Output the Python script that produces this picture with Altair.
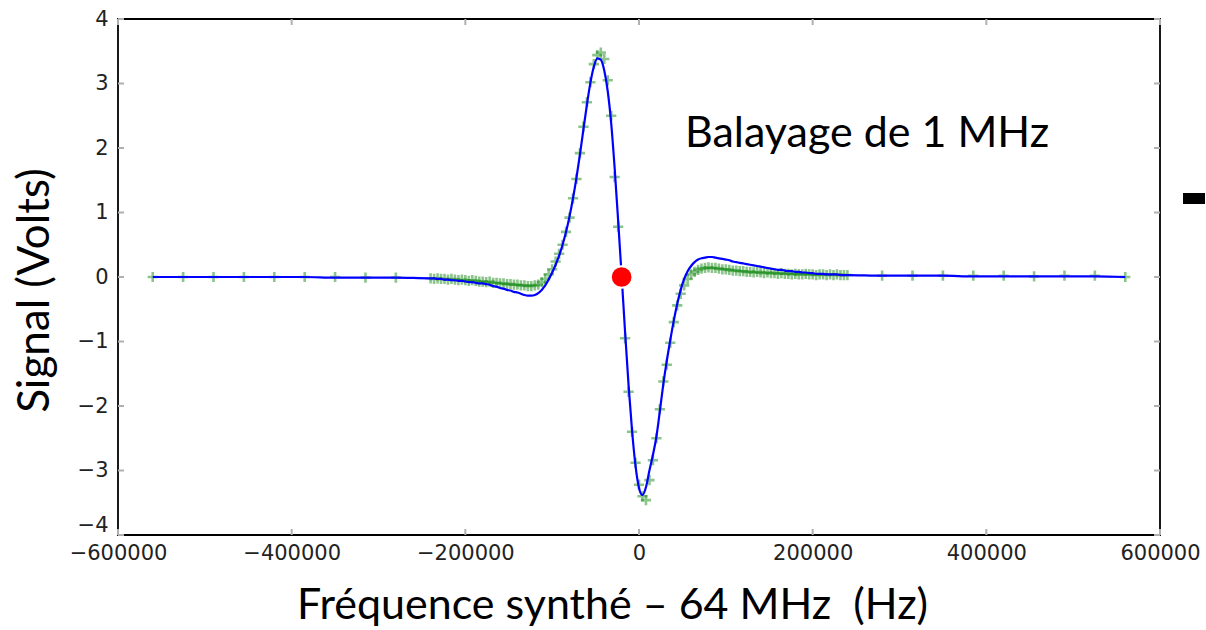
import altair as alt
import pandas as pd

# ---------------- data ----------------
# outer (sparse) sweep points, Hz
outer_left_x = [-560000, -525000, -490000, -455000, -420000, -385000, -350000, -315000, -280000]
outer_right_x = [280000, 315000, 350000, 385000, 420000, 455000, 490000, 525000, 560000]
outer_left_meas = [0.00, 0.00, 0.00, 0.00, 0.00, 0.00, 0.00, -0.01, -0.01]
outer_right_meas = [0.02, 0.02, 0.02, 0.02, 0.02, 0.01, 0.02, 0.02, 0.00]
outer_left_fit = [0.00, 0.00, 0.00, 0.00, 0.00, 0.00, -0.01, -0.01, -0.01]
outer_right_fit = [0.02, 0.02, 0.02, 0.01, 0.01, 0.01, 0.01, 0.01, 0.00]

# dense sweep points, -240 kHz .. +240 kHz every 4 kHz
dense_x = list(range(-240000, 240001, 4000))
dense_meas = [
    -0.02, -0.03, -0.02, -0.03, -0.03, -0.04, -0.03, -0.04, -0.05, -0.04,
    -0.05, -0.06, -0.05, -0.06, -0.07, -0.07, -0.08, -0.07, -0.09, -0.09,
    -0.10, -0.10, -0.11, -0.11, -0.12, -0.12, -0.13, -0.13, -0.14, -0.14,
    -0.13, -0.12, -0.08, -0.03, 0.04, 0.12, 0.24, 0.36, 0.50, 0.70,
    0.92, 1.22, 1.52, 1.92, 2.33, 2.71, 3.02, 3.30, 3.44, 3.48,
    3.38, 3.05, 2.50, 1.55, 0.78, 0.02, -0.95, -1.78, -2.40, -2.88,
    -3.22, -3.40, -3.46, -3.15, -2.84, -2.50, -2.05, -1.62, -1.36, -1.02,
    -0.70, -0.44, -0.26, -0.13, -0.03, 0.04, 0.08, 0.11, 0.13, 0.14,
    0.15, 0.14, 0.14, 0.13, 0.12, 0.12, 0.11, 0.10, 0.10, 0.09,
    0.09, 0.08, 0.08, 0.07, 0.08, 0.07, 0.06, 0.07, 0.06, 0.06,
    0.05, 0.06, 0.05, 0.05, 0.04, 0.05, 0.04, 0.04, 0.05, 0.04,
    0.04, 0.03, 0.04, 0.04, 0.03, 0.04, 0.03, 0.04, 0.03, 0.03,
    0.03,
]
dense_fit = [
    -0.02, -0.02, -0.03, -0.03, -0.04, -0.04, -0.05, -0.05, -0.06, -0.06,
    -0.07, -0.08, -0.08, -0.09, -0.10, -0.10, -0.11, -0.12, -0.14, -0.15,
    -0.17, -0.18, -0.20, -0.21, -0.23, -0.24, -0.26, -0.28, -0.29, -0.29,
    -0.28, -0.25, -0.20, -0.13, -0.04, 0.07, 0.19, 0.33, 0.50, 0.70,
    0.94, 1.22, 1.54, 1.90, 2.29, 2.67, 3.01, 3.26, 3.39, 3.37,
    3.20, 2.88, 2.38, 1.68, 0.87, 0.02, -0.86, -1.68, -2.38, -2.93,
    -3.27, -3.38, -3.26, -3.00, -2.76, -2.48, -2.08, -1.66, -1.30, -0.98,
    -0.68, -0.42, -0.20, -0.03, 0.09, 0.17, 0.23, 0.27, 0.29, 0.30,
    0.31, 0.31, 0.30, 0.29, 0.28, 0.27, 0.26, 0.24, 0.23, 0.22,
    0.21, 0.20, 0.19, 0.18, 0.17, 0.16, 0.15, 0.14, 0.13, 0.12,
    0.11, 0.11, 0.10, 0.09, 0.09, 0.08, 0.08, 0.07, 0.07, 0.06,
    0.06, 0.05, 0.05, 0.05, 0.04, 0.04, 0.04, 0.04, 0.03, 0.03,
    0.03,
]

lock_point_x = [-20000]
lock_point_y = [0.0]

x_ticks = [-600000, -400000, -200000, 0, 200000, 400000, 600000]
y_ticks = [-4, -3, -2, -1, 0, 1, 2, 3, 4]

annotation = ["Balayage de 1 MHz"]
annotation_x = [53000]
annotation_y = [2.22]

x_title = "Fréquence synthé – 64 MHz \u00a0(Hz)"
y_title = "Signal (Volts)"

# ---------------- tables ----------------
freq = outer_left_x + dense_x + outer_right_x
meas = outer_left_meas + dense_meas + outer_right_meas
fit = outer_left_fit + dense_fit + outer_right_fit
df = pd.DataFrame({"f": freq, "meas": meas, "fit": fit})
dot = pd.DataFrame({"f": lock_point_x, "v": lock_point_y})
ann = pd.DataFrame({"f": annotation_x, "v": annotation_y, "t": annotation})
xt = pd.DataFrame({"v": x_ticks})
yt = pd.DataFrame({"v": y_ticks})

W, H = 1042, 516
FONT = "Lato"

xs = alt.Scale(domain=[-600000, 600000], nice=False, zero=False)
ys = alt.Scale(domain=[-4, 4], nice=False, zero=False)

x_axis = alt.Axis(values=x_ticks, format="d", ticks=False, domain=False, grid=False,
                  labelFont="DejaVu Sans", labelFontSize=21, labelColor="#222",
                  labelPadding=7, labelFlush=False, labelOverlap=False,
                  title=x_title, titleFont=FONT, titleFontSize=43, titleFontWeight="normal",
                  titleColor="black", titleX=494, titleY=70, titleBaseline="middle",
                  titleAlign="center", titleAnchor=None)
y_axis = alt.Axis(values=y_ticks, format="d", ticks=False, domain=False, grid=False,
                  labelFont="DejaVu Sans", labelFontSize=21, labelColor="#222",
                  labelPadding=10, labelFlush=False, labelOverlap=False,
                  labelBaseline={"expr": "datum.value == -4 ? 'bottom' : 'middle'"},
                  title=y_title, titleFont=FONT, titleFontSize=44, titleFontWeight="normal",
                  titleColor="black", titleX=-83, titleY=271, titleAngle=270,
                  titleBaseline="middle", titleAlign="center")

base = alt.Chart(df)

points = base.mark_point(
    shape="M-1,0L1,0M0,-1L0,1", filled=False, color="#008000", opacity=0.45,
    strokeWidth=2.6, size=105,
).encode(
    x=alt.X("f:Q", scale=xs, axis=x_axis),
    y=alt.Y("meas:Q", scale=ys, axis=y_axis),
)

line = base.mark_line(color="#0000ff", strokeWidth=2.2, interpolate="monotone").encode(
    x=alt.X("f:Q", scale=xs),
    y=alt.Y("fit:Q", scale=ys),
)

red = alt.Chart(dot).mark_point(
    shape="circle", filled=True, color="red", size=470, opacity=1,
    stroke="white", strokeWidth=2,
).encode(x=alt.X("f:Q", scale=xs), y=alt.Y("v:Q", scale=ys))

text = alt.Chart(ann).mark_text(
    font=FONT, fontSize=43, align="left", baseline="middle", color="black",
).encode(x=alt.X("f:Q", scale=xs), y=alt.Y("v:Q", scale=ys), text="t:N")

tick_style = dict(color="#b0b0b0", strokeWidth=2)
tb = alt.Chart(xt).mark_rule(**tick_style).encode(
    x=alt.X("v:Q", scale=xs), y=alt.value(H), y2=alt.value(H - 6))
tt = alt.Chart(xt).mark_rule(**tick_style).encode(
    x=alt.X("v:Q", scale=xs), y=alt.value(0), y2=alt.value(6))
tl = alt.Chart(yt).mark_rule(**tick_style).encode(
    y=alt.Y("v:Q", scale=ys), x=alt.value(0), x2=alt.value(6))
tr = alt.Chart(yt).mark_rule(**tick_style).encode(
    y=alt.Y("v:Q", scale=ys), x=alt.value(W), x2=alt.value(W - 6))

blob = alt.Chart(pd.DataFrame({"k": [1]})).mark_rect(color="black").encode(
    x=alt.value(1065), x2=alt.value(1087), y=alt.value(174), y2=alt.value(185))

chart = alt.layer(tb, tt, tl, tr, points, line, red, text, blob).properties(
    width=W, height=H,
    autosize=alt.AutoSizeParams(type="none"),
    padding={"left": 118, "top": 19, "right": 46, "bottom": 95},
    background="white",
).configure_view(stroke="black", strokeWidth=1.8)

chart.save("out.html", embed_options={"renderer": "svg", "actions": False})
